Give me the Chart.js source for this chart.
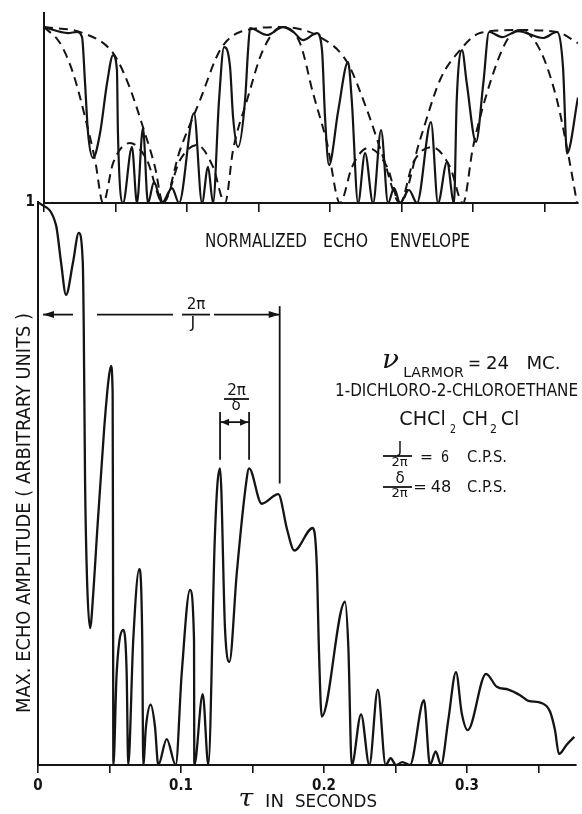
<!DOCTYPE html>
<html>
<head>
<meta charset="utf-8">
<script src="https://cdn.jsdelivr.net/npm/chart.js@4/dist/chart.umd.min.js"></script>
<style>
  html, body { margin: 0; padding: 0; background: #fff; }
  #wrap { position: relative; width: 582px; height: 814px; }
  canvas { position: absolute; left: 0; top: 0; }
</style>
</head>
<body>
<div id="wrap">
  <canvas id="js--echo" width="582" height="814"></canvas>
  <canvas id="js--envelope" width="582" height="220"></canvas>
</div>
<script>
// max. echo amplitude (lower plot), tau in seconds
const echoTau = [0, 0.0126, 0.0161, 0.0196, 0.0245, 0.0285, 0.0313, 0.032, 0.0329, 0.0343, 0.0364, 0.0388, 0.041, 0.0462, 0.0493, 0.051,
    0.0522, 0.0525, 0.0527, 0.055, 0.0597, 0.062, 0.0631, 0.0666, 0.0708, 0.0729, 0.0736, 0.0755, 0.0788, 0.0818, 0.0841, 0.09, 0.0963,
    0.1005, 0.1063, 0.1091, 0.1093, 0.1152, 0.1191, 0.1236, 0.1255, 0.1273, 0.1308, 0.1338, 0.139, 0.145, 0.1476, 0.1564, 0.168, 0.1743,
    0.1792, 0.1921, 0.1949, 0.1965, 0.1984, 0.2147, 0.217, 0.2194, 0.2259, 0.2317, 0.2376, 0.2431, 0.2466, 0.2503, 0.2548, 0.2601, 0.2699,
    0.2741, 0.2781, 0.2818, 0.2869, 0.2923, 0.2963, 0.3005, 0.3133, 0.3208, 0.3289, 0.3371, 0.3429, 0.3522, 0.358, 0.3615, 0.3643, 0.3697, 0.375];
const echoAmp = [1.0, 0.959, 0.893, 0.835, 0.893, 0.945, 0.893, 0.776, 0.506, 0.329, 0.243, 0.311, 0.40, 0.595, 0.684, 0.709,
    0.66, 0.30, 0, 0.163, 0.24, 0.163, 0, 0.222, 0.348, 0.222, 0, 0.068, 0.107, 0.068, 0, 0.046, 0,
    0.163, 0.311, 0.222, 0, 0.126, 0, 0.40, 0.50, 0.527, 0.24, 0.183, 0.341, 0.49, 0.527, 0.464, 0.481, 0.417,
    0.381, 0.421, 0.358, 0.2, 0.086, 0.29, 0.21, 0, 0.09, 0, 0.134, 0, 0.012, 0, 0.005, 0, 0.115,
    0, 0.024, 0, 0.08, 0.165, 0.092, 0.062, 0.162, 0.139, 0.134, 0.124, 0.114, 0.11, 0.095, 0.062, 0.0195, 0.036, 0.05];

// normalized echo envelope (upper plot)
const envTau = [0, 0.0168, 0.0231, 0.0266, 0.0287, 0.0308, 0.0343, 0.0392, 0.0441, 0.0483, 0.051, 0.0517, 0.0552, 0.0615, 0.065,
    0.0692, 0.0727, 0.0769, 0.0825, 0.0895, 0.0944, 0.1049, 0.1105, 0.1147, 0.1182, 0.1224, 0.1259, 0.1301, 0.1322, 0.1357, 0.1406,
    0.1427, 0.1441, 0.1559, 0.1671, 0.1743, 0.1811, 0.1909, 0.1944, 0.1965, 0.1993, 0.2058, 0.2126, 0.2152, 0.2196, 0.2245, 0.2301,
    0.2357, 0.2406, 0.2448, 0.249, 0.2552, 0.2608, 0.2706, 0.2755, 0.2818, 0.2867, 0.2886, 0.2923, 0.2956, 0.3021, 0.3072, 0.3112,
    0.3203, 0.3315, 0.349, 0.3587, 0.3629, 0.3657, 0.3734];
const envAmp = [1.0, 0.966, 0.972, 0.943, 0.682, 0.398, 0.256, 0.398, 0.682, 0.841, 0.756, 0.398, 0, 0.318, 0,
    0.426, 0, 0.119, 0, 0.085, 0, 0.511, 0, 0.205, 0, 0.585, 0.886, 0.773, 0.489, 0.318, 0.585,
    0.869, 0.994, 0.955, 1.0, 0.973, 0.926, 0.966, 0.869, 0.489, 0.216, 0.528, 0.801, 0.585, 0, 0.284, 0,
    0.415, 0, 0.085, 0, 0.074, 0, 0.46, 0, 0.233, 0, 0.585, 0.869, 0.682, 0.347, 0.682, 0.972,
    0.943, 0.977, 0.938, 0.972, 0.774, 0.282, 0.6];

// dashed envelopes (upper plot)
const outerTau = [0, 0.0273, 0.0483, 0.0587, 0.0692, 0.0776, 0.0832, 0.0951, 0.1091, 0.1231, 0.1371, 0.1664, 0.193, 0.2119,
    0.2259, 0.2371, 0.249, 0.2629, 0.2769, 0.2909, 0.3049, 0.3315, 0.3587, 0.3734];
const outerAmp = [1.0, 0.966, 0.852, 0.682, 0.432, 0.205, 0, 0.301, 0.585, 0.869, 0.972, 1.0, 0.943, 0.801,
    0.528, 0.261, 0, 0.358, 0.699, 0.869, 0.966, 0.983, 0.972, 0.909];
const innerTau = [0, 0.0112, 0.0203, 0.0287, 0.0357, 0.0413, 0.0483, 0.0601, 0.072, 0.0832, 0.0951, 0.107, 0.1182, 0.1266, 0.1322,
    0.142, 0.1531, 0.1664, 0.179, 0.1881, 0.1979, 0.207, 0.2154, 0.2266, 0.2399, 0.249, 0.258, 0.2713, 0.2839, 0.293, 0.3,
    0.3119, 0.3238, 0.3329, 0.3469, 0.3587, 0.3664, 0.3727];
const innerAmp = [1.0, 0.909, 0.739, 0.489, 0.244, 0, 0.227, 0.341, 0.244, 0, 0.244, 0.33, 0.205, 0, 0.301,
    0.585, 0.869, 1.0, 0.909, 0.625, 0.341, 0, 0.205, 0.313, 0.205, 0, 0.227, 0.318, 0.205, 0, 0.318,
    0.682, 0.926, 0.983, 0.869, 0.585, 0.284, 0];

const tauLabels = ['0', '0.1', '0.2', '0.3'];
const tauStep = 0.05;

const ink = '#141414';
const cond = '"DejaVu Sans Condensed", "DejaVu Sans", sans-serif';
Chart.defaults.font.family = cond;
Chart.defaults.color = ink;

const pts = (xs, ys) => xs.map((x, i) => ({ x: x, y: ys[i] }));

// draw text squeezed (or slightly stretched) into the span x0..x1
function fit(ctx, str, x0, x1, y, font) {
    ctx.font = font;
    ctx.textAlign = 'center';
    ctx.textBaseline = 'middle';
    const w = ctx.measureText(str).width;
    const k = Math.min((x1 - x0) / w, 1.12);
    ctx.save();
    ctx.translate((x0 + x1) / 2, y);
    ctx.scale(k, 1);
    ctx.fillText(str, 0, 0);
    ctx.restore();
}

function head(ctx, x, y, dir, len) {
    ctx.beginPath();
    ctx.moveTo(x, y);
    ctx.lineTo(x - dir * len, y - 3.5);
    ctx.lineTo(x - dir * len, y + 3.5);
    ctx.closePath();
    ctx.fill();
}

function seg(ctx, x1, y1, x2, y2) {
    ctx.beginPath();
    ctx.moveTo(x1, y1);
    ctx.lineTo(x2, y2);
    ctx.stroke();
}

const annotate = {
    id: 'annotate',
    afterDraw(chart) {
        const ctx = chart.ctx;
        const x = chart.scales.x;
        const y = chart.scales.y;
        ctx.save();
        ctx.fillStyle = ink;
        ctx.strokeStyle = ink;
        ctx.lineWidth = 1.8;

        // y axis title
        ctx.save();
        ctx.translate(25, 513);
        ctx.rotate(-Math.PI / 2);
        fit(ctx, 'MAX. ECHO AMPLITUDE ( ARBITRARY UNITS )', -200, 200, 0, '20px ' + cond);
        ctx.restore();

        // x axis title
        fit(ctx, 'τ', 238, 254, 800, 'italic 24px "DejaVu Serif"');
        fit(ctx, 'IN', 264, 285, 802, '18px ' + cond);
        fit(ctx, 'SECONDS', 295, 377, 802, '18px ' + cond);

        // label of the upper plot
        fit(ctx, 'NORMALIZED', 205, 307, 242, '19px ' + cond);
        fit(ctx, 'ECHO', 323, 368, 242, '19px ' + cond);
        fit(ctx, 'ENVELOPE', 390, 470, 242, '19px ' + cond);

        // 2pi / J period arrow
        const yJ = y.getPixelForValue(0.8);
        const xJ0 = x.getPixelForValue(0.0035);
        const xJ1 = x.getPixelForValue(0.169);
        seg(ctx, xJ0, yJ, 73, yJ);
        seg(ctx, 97, yJ, 173, yJ);
        seg(ctx, 182, yJ, 210, yJ);
        seg(ctx, 214, yJ, xJ1, yJ);
        head(ctx, xJ0, yJ, -1, 11);
        head(ctx, xJ1, yJ, 1, 11);
        seg(ctx, xJ1, y.getPixelForValue(0.815), xJ1, y.getPixelForValue(0.5));
        fit(ctx, '2π', 184, 208, 305, '15px ' + cond);
        fit(ctx, 'J', 188, 198, 324, '16px ' + cond);

        // 2pi / delta arrow
        const xd0 = x.getPixelForValue(0.1273);
        const xd1 = x.getPixelForValue(0.1476);
        const yd = y.getPixelForValue(0.609);
        seg(ctx, xd0, y.getPixelForValue(0.627), xd0, y.getPixelForValue(0.542));
        seg(ctx, xd1, y.getPixelForValue(0.627), xd1, y.getPixelForValue(0.542));
        seg(ctx, xd0, yd, xd1, yd);
        head(ctx, xd0 + 1, yd, -1, 8);
        head(ctx, xd1 - 1, yd, 1, 8);
        fit(ctx, '2π', 225, 248, 391, '15px ' + cond);
        seg(ctx, 224, 399, 249, 399);
        fit(ctx, 'δ', 231, 241, 406, '15px ' + cond);

        // sample description
        fit(ctx, 'ν', 382, 399, 361, 'italic 26px "DejaVu Serif"');
        fit(ctx, 'LARMOR', 402, 465, 373, '14px ' + cond);
        fit(ctx, '=', 468, 481, 364, '18px ' + cond);
        fit(ctx, '24', 485, 510, 364, '18px ' + cond);
        fit(ctx, 'MC.', 525, 562, 364, '18px ' + cond);
        fit(ctx, '1-DICHLORO-2-CHLOROETHANE', 335, 578, 392, '17px ' + cond);
        fit(ctx, 'CHCl', 397, 448, 420, '19px ' + cond);
        fit(ctx, '2', 450, 456, 430, '12px ' + cond);
        fit(ctx, 'CH', 462, 488, 420, '19px ' + cond);
        fit(ctx, '2', 490, 497, 430, '12px ' + cond);
        fit(ctx, 'Cl', 498, 522, 420, '19px ' + cond);

        fit(ctx, 'J', 395, 405, 449, '15px ' + cond);
        seg(ctx, 383, 456, 412, 456);
        fit(ctx, '2π', 387, 412, 463, '13px ' + cond);
        fit(ctx, '=', 420, 433, 458, '16px ' + cond);
        fit(ctx, '6', 441, 449, 458, '16px ' + cond);
        fit(ctx, 'C.P.S.', 467, 507, 458, '16px ' + cond);

        fit(ctx, 'δ', 395, 405, 479, '15px ' + cond);
        seg(ctx, 383, 487, 412, 487);
        fit(ctx, '2π', 387, 412, 494, '13px ' + cond);
        fit(ctx, '=', 413, 427, 488, '16px ' + cond);
        fit(ctx, '48', 430, 452, 488, '16px ' + cond);
        fit(ctx, 'C.P.S.', 467, 507, 488, '16px ' + cond);

        ctx.restore();
    }
};

const tickFont = { family: cond, size: 15, weight: 'bold' };

// lower plot: max. echo amplitude
const echoChart = new Chart(document.getElementById('js--echo'), {
    type: 'line',
    data: {
        datasets: [{
            data: pts(echoTau, echoAmp),
            borderColor: ink,
            borderWidth: 2.3,
            cubicInterpolationMode: 'monotone',
            pointRadius: 0,
            fill: false
        }]
    },
    options: {
        responsive: false,
        animation: false,
        devicePixelRatio: 1,
        layout: { padding: { top: 202, right: 6, left: 0, bottom: 0 } },
        plugins: { legend: { display: false }, tooltip: { enabled: false } },
        scales: {
            x: {
                type: 'linear',
                min: 0,
                max: 0.3762,
                afterFit: (s) => { s.height = 49; },
                border: { color: ink, width: 2 },
                grid: { drawOnChartArea: false, drawTicks: true, tickLength: 8, color: ink, lineWidth: 1.6 },
                ticks: {
                    stepSize: tauStep,
                    includeBounds: false,
                    autoSkip: false,
                    maxRotation: 0,
                    padding: 4,
                    font: tickFont,
                    color: ink,
                    callback: (v) => {
                        const k = Math.round(v / tauStep);
                        return k % 2 === 0 ? (tauLabels[k / 2] || '') : '';
                    }
                }
            },
            y: {
                min: 0,
                max: 1,
                afterFit: (s) => { s.width = 38; },
                border: { color: ink, width: 2 },
                grid: { display: false, drawTicks: false },
                ticks: { stepSize: 1, padding: 3, font: tickFont, color: ink, callback: (v) => v === 1 ? '1' : '' }
            }
        }
    },
    plugins: [annotate]
});

// upper plot: normalized echo envelope
const envelopeChart = new Chart(document.getElementById('js--envelope'), {
    type: 'line',
    data: {
        datasets: [
            { data: pts(outerTau, outerAmp), borderDash: [9, 6], borderWidth: 2 },
            { data: pts(innerTau, innerAmp), borderDash: [9, 6], borderWidth: 2 },
            { data: pts(envTau, envAmp), borderWidth: 2.2 }
        ]
    },
    options: {
        responsive: false,
        animation: false,
        devicePixelRatio: 1,
        layout: { padding: { top: 13, right: 4, left: 0, bottom: 0 } },
        elements: {
            point: { radius: 0 },
            line: { borderColor: ink, cubicInterpolationMode: 'monotone', fill: false }
        },
        plugins: { legend: { display: false }, tooltip: { enabled: false } },
        scales: {
            x: {
                type: 'linear',
                min: 0,
                max: 0.3734,
                afterFit: (s) => { s.height = 17; },
                border: { color: ink, width: 2 },
                grid: { drawOnChartArea: false, drawTicks: true, tickLength: 9, color: ink, lineWidth: 1.6 },
                ticks: { stepSize: tauStep, includeBounds: false, autoSkip: false, maxRotation: 0, callback: () => '' }
            },
            y: {
                min: 0,
                max: 1.08,
                afterFit: (s) => { s.width = 44; },
                border: { color: ink, width: 2 },
                grid: { display: false, drawTicks: false },
                ticks: { stepSize: 1, padding: 4, font: tickFont, color: ink, callback: (v) => v === 1 ? '1' : '' }
            }
        }
    }
});
</script>
</body>
</html>
